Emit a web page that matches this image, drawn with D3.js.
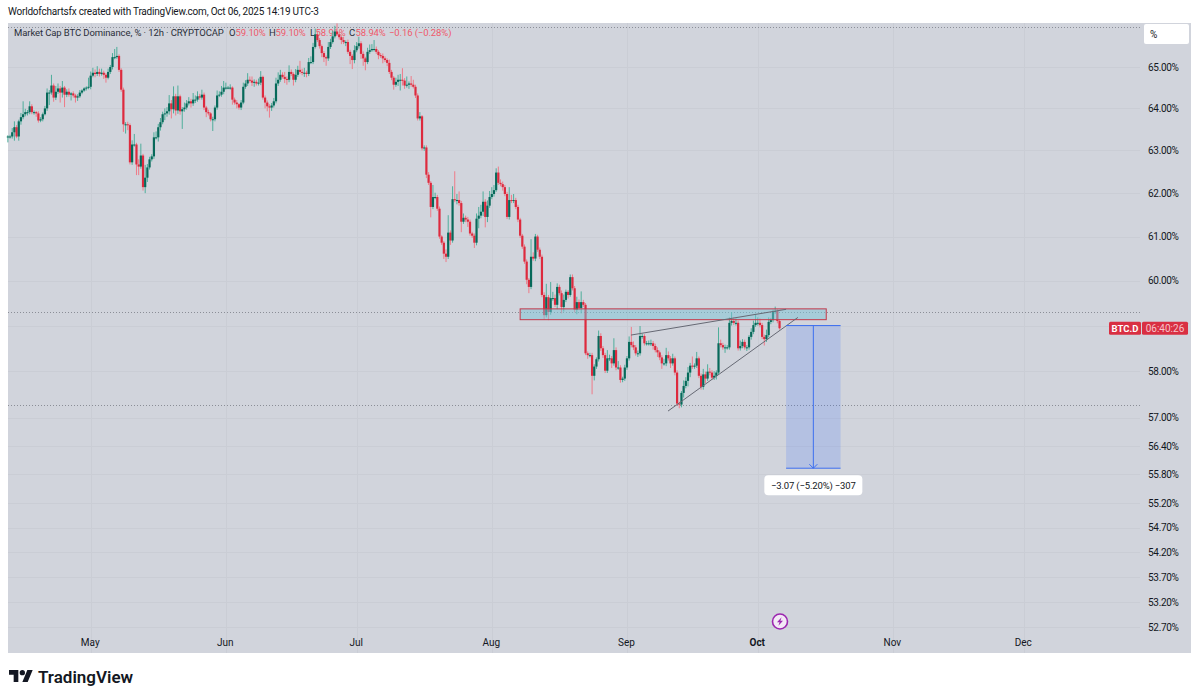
<!DOCTYPE html>
<html>
<head>
<meta charset="utf-8">
<style>
  html, body { margin: 0; padding: 0; background: #fff; }
  svg { display: block; }
  text { font-family: Roboto, "Open Sans", sans-serif; }
</style>
<script src="https://cdn.jsdelivr.net/npm/d3@7"></script>
</head>
<body>
<svg id="chart" width="1200" height="700"></svg>
<script>
// BTC.D closing prices, 12h candles from 12 Apr 2025, in percent.
const closes = [
63.33,63.33,63.43,63.55,63.33,63.69,63.79,63.86,63.91,63.91,
64.05,63.91,63.91,63.88,63.71,63.74,63.86,64.00,64.38,64.38,
64.55,64.26,64.40,64.48,64.38,64.50,64.33,64.40,64.33,64.36,
64.31,64.26,64.29,64.38,64.43,64.48,64.50,64.52,64.79,64.86,
64.83,64.88,64.83,64.86,64.81,64.74,64.88,65.00,65.24,65.24,
65.27,64.93,64.45,63.62,63.62,63.60,62.72,63.14,63.14,62.67,
62.62,62.88,62.14,62.36,62.60,62.79,62.86,63.31,63.31,63.55,
63.67,63.86,63.88,63.93,64.12,63.98,64.29,63.95,64.29,63.93,
63.98,64.02,64.12,64.17,64.12,64.21,64.21,64.29,64.26,64.33,
64.02,63.91,63.88,63.74,63.74,64.02,64.31,64.33,64.40,64.50,
64.50,64.50,64.50,64.21,64.14,64.10,64.02,64.14,64.52,64.60,
64.69,64.67,64.62,64.64,64.60,64.62,64.76,64.26,64.14,64.05,
64.02,64.07,64.17,64.60,64.69,64.81,64.76,64.71,64.69,64.88,
64.83,64.69,64.81,64.93,64.88,64.86,64.86,64.83,65.12,65.12,
65.49,65.80,65.66,65.51,65.34,65.24,65.21,65.49,65.61,65.75,
65.87,65.80,65.73,65.66,65.61,65.61,65.37,65.27,65.17,65.41,
65.51,65.58,65.32,65.21,65.12,65.37,65.41,65.44,65.44,65.37,
65.29,65.27,65.21,65.17,65.10,64.88,64.74,64.57,64.64,64.69,
64.69,64.67,64.55,64.57,64.60,64.57,64.52,64.31,63.76,63.81,
63.05,63.07,62.43,62.24,61.68,61.91,61.91,61.64,61.00,60.86,
60.61,60.54,61.09,60.91,61.86,61.84,61.84,61.77,61.34,61.43,
61.39,61.34,61.07,61.02,60.86,61.41,61.48,61.57,61.80,61.45,
61.71,61.91,61.98,62.07,62.48,62.24,62.21,62.14,61.98,61.45,
61.84,61.82,61.84,61.68,61.39,61.02,60.77,60.43,60.02,59.86,
60.54,60.50,61.00,60.70,60.54,59.68,59.23,59.63,59.30,59.61,
59.61,59.46,59.86,59.72,59.41,59.57,59.75,59.68,60.08,59.83,
59.35,59.52,59.39,59.52,59.46,58.39,58.35,58.35,57.90,58.10,
58.26,58.77,58.50,58.35,58.01,58.28,58.28,58.17,58.46,58.08,
58.08,57.81,57.84,58.08,58.28,58.64,58.57,58.52,58.39,58.39,
58.77,58.77,58.61,58.61,58.61,58.61,58.55,58.46,58.41,58.30,
58.17,58.17,58.35,58.28,58.17,58.28,57.97,57.30,57.28,57.53,
57.68,57.79,57.97,58.12,58.10,58.12,58.28,57.90,57.66,57.93,
57.84,57.99,57.97,57.86,57.90,57.97,58.61,58.57,58.52,58.52,
58.52,59.06,59.10,59.06,59.06,58.50,58.55,58.64,58.52,58.52,
58.75,58.86,59.01,59.06,59.06,59.01,58.75,58.70,58.79,59.08,
59.12,59.30,59.32,59.10,58.94
];
// Distance from the top of each body to its high, in percentage points.
const wickUp = [
.03,.04,.10,.14,.05,.04,.10,.31,.08,.05,
.12,.05,.04,.03,.05,.05,.04,.06,.10,.06,
.26,.05,.14,.12,.06,.16,.04,.06,.08,.03,
.05,.04,.05,.06,.03,.03,.03,.22,.10,.12,
.08,.14,.08,.10,.05,.04,.08,.05,.10,.20,
.22,.04,.04,.05,.05,.06,.04,.10,.25,.04,
.12,.28,.04,.30,.08,.06,.05,.12,.14,.08,
.10,.06,.12,.10,.20,.08,.24,.06,.26,.04,
.05,.12,.08,.10,.06,.16,.10,.12,.06,.12,
.05,.04,.06,.03,.06,.05,.12,.08,.14,.16,
.12,.04,.08,.03,.05,.06,.03,.06,.10,.08,
.16,.08,.10,.06,.05,.10,.14,.03,.05,.05,
.05,.06,.08,.14,.18,.12,.06,.12,.06,.16,
.06,.04,.14,.10,.22,.08,.12,.05,.10,.14,
.10,.14,.06,.05,.04,.05,.04,.12,.08,.14,
.14,.20,.06,.05,.08,.04,.06,.05,.04,.12,
.10,.16,.05,.06,.04,.10,.14,.12,.22,.06,
.04,.05,.06,.05,.04,.08,.05,.04,.10,.12,
.14,.28,.06,.20,.05,.18,.12,.05,.05,.10,
.03,.05,.05,.06,.04,.28,.10,.05,.05,.03,
.04,.10,.40,.05,.30,.65,.14,.20,.05,.10,
.05,.06,.05,.04,.05,.12,.20,.16,.24,.06,
.12,.14,.16,.12,.10,.14,.08,.06,.05,.05,
.30,.12,.14,.05,.05,.04,.04,.05,.05,.04,
.40,.10,.06,.04,.05,.05,.06,.30,.05,.36,
.14,.08,.08,.05,.06,.12,.05,.04,.06,.06,
.05,.12,.06,.24,.05,.04,.04,.05,.05,.05,
.04,.12,.06,.05,.05,.18,.08,.05,.26,.06,
.14,.05,.04,.06,.05,.12,.33,.08,.05,.06,
.22,.05,.04,.05,.06,.08,.05,.05,.06,.04,
.05,.10,.16,.08,.05,.10,.04,.05,.04,.04,
.12,.08,.12,.06,.20,.05,.14,.04,.05,.12,
.06,.16,.08,.05,.10,.05,.35,.08,.05,.06,
.05,.12,.20,.08,.10,.05,.12,.06,.05,.05,
.04,.08,.10,.20,.12,.10,.05,.05,.12,.10,
.05,.05,.10,.04,.04
];
// Distance from the bottom of each body to its low, in percentage points.
const wickDown = [
.12,.05,.05,.20,.04,.10,.08,.05,.05,.08,
.05,.05,.06,.08,.05,.04,.05,.03,.06,.30,
.05,.10,.06,.05,.24,.12,.30,.06,.05,.14,
.05,.12,.08,.04,.04,.03,.05,.04,.06,.04,
.08,.05,.06,.04,.10,.12,.04,.05,.06,.05,
.04,.05,.05,.18,.22,.12,.05,.06,.05,.25,
.20,.05,.08,.14,.10,.05,.05,.06,.05,.10,
.08,.05,.14,.08,.08,.22,.10,.12,.08,.08,
.42,.06,.05,.05,.10,.06,.08,.05,.05,.05,
.06,.12,.05,.05,.28,.05,.05,.04,.05,.06,
.05,.04,.05,.12,.05,.10,.05,.06,.04,.05,
.06,.05,.08,.10,.05,.05,.06,.05,.14,.12,
.24,.08,.05,.05,.06,.05,.04,.10,.12,.06,
.05,.14,.06,.05,.05,.06,.10,.08,.05,.05,
.05,.04,.05,.06,.10,.12,.18,.06,.05,.04,
.05,.04,.06,.10,.05,.10,.05,.20,.22,.08,
.05,.06,.12,.18,.20,.05,.05,.04,.06,.05,
.10,.05,.12,.05,.08,.05,.06,.12,.05,.10,
.26,.12,.08,.05,.10,.05,.04,.06,.05,.05,
.05,.06,.08,.05,.24,.05,.05,.05,.05,.05,
.12,.12,.05,.10,.05,.05,.10,.06,.24,.05,
.06,.12,.05,.05,.12,.06,.22,.06,.10,.24,
.12,.05,.05,.06,.04,.05,.05,.08,.05,.05,
.06,.05,.05,.05,.06,.05,.05,.05,.10,.14,
.05,.05,.06,.05,.05,.05,.10,.05,.18,.06,
.06,.05,.10,.05,.14,.10,.05,.08,.04,.05,
.06,.10,.05,.12,.05,.04,.08,.05,.40,.10,
.05,.05,.06,.06,.05,.05,.06,.10,.05,.06,
.05,.06,.05,.05,.05,.05,.05,.06,.05,.08,
.05,.06,.05,.05,.05,.06,.08,.05,.10,.06,
.12,.05,.06,.05,.10,.05,.06,.05,.08,.06,
.10,.05,.12,.10,.05,.05,.05,.05,.06,.06,
.10,.05,.06,.05,.05,.08,.05,.05,.05,.12,
.05,.05,.06,.05,.06,.05,.05,.05,.05,.08,
.05,.06,.05,.04,.06,.05,.05,.14,.06,.05,
.05,.05,.04,.05,.03
];
const firstOpen = 63.31;
const firstCandle = Date.UTC(2025, 3, 12);

const priceTicks = [65, 64, 63, 62, 61, 60, 59, 58, 57, 56.4, 55.8, 55.2, 54.7, 54.2, 53.7, 53.2, 52.7];
const hiddenPriceLabels = [59];
const monthTicks = [[2025, 4, "May"], [2025, 5, "Jun"], [2025, 6, "Jul"], [2025, 7, "Aug"], [2025, 8, "Sep"], [2025, 9, "Oct"], [2025, 10, "Nov"], [2025, 11, "Dec"]];

// Horizontal dotted guides: session high, resistance level, session low.
const dottedLevels = [65.98, 59.29, 57.27];
const zoneTop = 59.37, zoneBottom = 59.13;
const zoneDates = ["2025-08-07T12:00Z", "2025-10-16T17:00Z"];
const upperTrend = [["2025-09-01T22:00Z", 58.79], ["2025-10-07T12:00Z", 59.36]];
const lowerTrend = [["2025-09-10T10:00Z", 57.14], ["2025-10-10T05:00Z", 59.18]];
const projectionDates = ["2025-10-07T12:00Z", "2025-10-20T00:00Z"];
const projectionFrom = 59.00, projectionTo = 55.93;

const svg = d3.select("#chart");
const PANE = { left: 8, right: 1140, top: 23, bottom: 653, outerRight: 1191 };

const x = d3.scaleUtc()
  .domain([new Date(Date.UTC(2025, 4, 1)), new Date(Date.UTC(2025, 11, 1))])
  .range([90.7, 1023.7]);
const y = d3.scaleLog().domain([65, 52.72]).range([67, 626]);

const candles = closes.map((c, i) => {
  const o = i ? closes[i - 1] : firstOpen;
  return {
    date: new Date(firstCandle + i * 12 * 3600 * 1000),
    o, c,
    h: Math.max(o, c) + wickUp[i],
    l: Math.min(o, c) - wickDown[i]
  };
});

// Pane background
svg.append("rect")
  .attr("x", PANE.left).attr("y", PANE.top)
  .attr("width", PANE.outerRight - PANE.left).attr("height", PANE.bottom - PANE.top)
  .attr("fill", "#d1d4dc");

// Snapshot caption
svg.append("text").attr("x", 8).attr("y", 15)
  .attr("font-size", 10).attr("letter-spacing", "-.21").attr("fill", "#131722")
  .text("Worldofchartsfx created with TradingView.com, Oct 06, 2025 14:19 UTC-3");

// Grid
const grid = svg.append("g").attr("stroke", "#cacdd5").attr("stroke-width", 1);
grid.selectAll("line.h").data(priceTicks).join("line").attr("class", "h")
  .attr("x1", PANE.left).attr("x2", PANE.right)
  .attr("y1", d => Math.round(y(d)) + .5).attr("y2", d => Math.round(y(d)) + .5);
grid.selectAll("line.v").data(monthTicks).join("line").attr("class", "v")
  .attr("y1", PANE.top).attr("y2", PANE.bottom)
  .attr("x1", d => Math.round(x(new Date(Date.UTC(d[0], d[1], 1)))) + .5)
  .attr("x2", d => Math.round(x(new Date(Date.UTC(d[0], d[1], 1)))) + .5);

// Dotted guides
svg.append("g").selectAll("line").data(dottedLevels).join("line")
  .attr("x1", PANE.left).attr("x2", PANE.right)
  .attr("y1", d => Math.round(y(d)) + .5).attr("y2", d => Math.round(y(d)) + .5)
  .attr("stroke", "#8b8e97").attr("stroke-width", 1).attr("stroke-dasharray", "1 2");

// Symbol legend, drawn under the candles
const legendRed = "#ef5a6b";
const legend = svg.append("g").attr("font-size", 9.5).attr("letter-spacing", "-.1");
const legendItems = [
  [14, "Market Cap BTC Dominance, % · 12h · CRYPTOCAP", "#2a2e39"],
  [229, "O", "#2a2e39"], [235.5, "59.10%", legendRed],
  [269, "H", "#2a2e39"], [275.5, "59.10%", legendRed],
  [310, "L", "#2a2e39"], [315.5, "58.91%", legendRed],
  [349, "C", "#2a2e39"], [355.5, "58.94%", legendRed],
  [389, "−0.16 (−0.28%)", legendRed]
];
legend.selectAll("text").data(legendItems).join("text")
  .attr("x", d => d[0]).attr("y", 36).attr("fill", d => d[2]).text(d => d[1]);

// Candles
const GREEN = "#07695a", RED = "#dd2a3e", GREEN_W = "#4fae9b", RED_W = "#ee7b88";
const bars = svg.append("g");
bars.selectAll("line").data(candles).join("line")
  .attr("x1", d => x(d.date)).attr("x2", d => x(d.date))
  .attr("y1", d => y(d.h)).attr("y2", d => y(d.l))
  .attr("stroke", d => d.c >= d.o ? GREEN_W : RED_W).attr("stroke-width", 1);
bars.selectAll("rect").data(candles).join("rect")
  .attr("x", d => x(d.date) - 1.1).attr("width", 2.2)
  .attr("y", d => y(Math.max(d.o, d.c)))
  .attr("height", d => Math.max(1, Math.abs(y(d.o) - y(d.c))))
  .attr("fill", d => d.c >= d.o ? GREEN : RED);

// Supply zone
svg.append("rect")
  .attr("x", x(new Date(zoneDates[0]))).attr("width", x(new Date(zoneDates[1])) - x(new Date(zoneDates[0])))
  .attr("y", y(zoneTop)).attr("height", y(zoneBottom) - y(zoneTop))
  .attr("fill", "#7cc4d6").attr("fill-opacity", .5)
  .attr("stroke", "#c4384a").attr("stroke-width", 1);

// Rising wedge
const trendLine = d3.line().x(d => x(new Date(d[0]))).y(d => y(d[1]));
svg.append("g").selectAll("path").data([upperTrend, lowerTrend]).join("path")
  .attr("d", trendLine).attr("fill", "none")
  .attr("stroke", "#666974").attr("stroke-width", 1);

// Short projection with its measured move
const px0 = x(new Date(projectionDates[0])), px1 = x(new Date(projectionDates[1]));
const pxMid = (px0 + px1) / 2;
const pyTop = y(projectionFrom), pyBot = y(projectionTo);
const BLUE = "#3d6ff0";
const proj = svg.append("g");
proj.append("rect").attr("x", px0).attr("y", pyTop)
  .attr("width", px1 - px0).attr("height", pyBot - pyTop)
  .attr("fill", "#2962ff").attr("fill-opacity", .17);
proj.append("line").attr("x1", px0).attr("x2", px1).attr("y1", pyTop).attr("y2", pyTop)
  .attr("stroke", BLUE).attr("stroke-width", 1);
proj.append("line").attr("x1", px0).attr("x2", px1).attr("y1", pyBot).attr("y2", pyBot)
  .attr("stroke", BLUE).attr("stroke-width", 1);
proj.append("line").attr("x1", pxMid).attr("x2", pxMid).attr("y1", pyTop).attr("y2", pyBot)
  .attr("stroke", BLUE).attr("stroke-width", 1);
proj.append("path")
  .attr("d", `M${pxMid - 4},${pyBot - 4} L${pxMid},${pyBot} L${pxMid + 4},${pyBot - 4}`)
  .attr("fill", "none").attr("stroke", BLUE).attr("stroke-width", 1);

const labelW = 98, labelH = 20;
proj.append("rect").attr("x", pxMid - labelW / 2).attr("y", pyBot + 7)
  .attr("width", labelW).attr("height", labelH).attr("rx", 4).attr("fill", "#fff");
proj.append("text").attr("x", pxMid).attr("y", pyBot + 20.5)
  .attr("text-anchor", "middle").attr("font-size", 9.5).attr("letter-spacing", "-.15").attr("fill", "#131722")
  .text(`−${(projectionFrom - projectionTo).toFixed(2)} (−5.20%) −307`);

// Price axis
const yAxis = d3.axisRight(y).tickValues(priceTicks.filter(d => !hiddenPriceLabels.includes(d)))
  .tickFormat(d => d.toFixed(2) + "%").tickSize(0).tickPadding(0);
const gy = svg.append("g").attr("transform", "translate(1148,0)").call(yAxis);
gy.select(".domain").remove();
gy.selectAll("text").attr("font-family", "Roboto, sans-serif").attr("font-size", 10).attr("fill", "#131722")
  .attr("letter-spacing", "-.3");

// Time axis
const xAxis = d3.axisBottom(x)
  .tickValues(monthTicks.map(d => new Date(Date.UTC(d[0], d[1], 1))))
  .tickFormat((d, i) => monthTicks[i][2]).tickSize(0).tickPadding(0);
const gx = svg.append("g").attr("transform", "translate(-1,639)").call(xAxis);
gx.select(".domain").remove();
gx.selectAll("text").attr("font-family", "Roboto, sans-serif").attr("font-size", 10).attr("fill", "#131722")
  .attr("font-weight", (d, i) => monthTicks[i][2] === "Oct" ? 700 : 400);

// Scale mode button
svg.append("rect").attr("x", 1144).attr("y", 24).attr("width", 45).attr("height", 20).attr("rx", 2).attr("fill", "#fff");
svg.append("text").attr("x", 1150).attr("y", 38).attr("font-size", 10).attr("fill", "#131722").text("%");

// Last price tags
const lastClose = closes[closes.length - 1];
const tagY = y(lastClose);
const TAG = "#d92f42";
svg.append("rect").attr("x", 1109).attr("y", tagY - 6.5).attr("width", 32).attr("height", 13).attr("rx", 1.5).attr("fill", TAG);
svg.append("rect").attr("x", 1142).attr("y", tagY - 6.5).attr("width", 46).attr("height", 13).attr("rx", 1.5).attr("fill", TAG);
svg.append("text").attr("x", 1125).attr("y", tagY + 3.6).attr("text-anchor", "middle")
  .attr("font-size", 9.5).attr("font-weight", 700).attr("fill", "#fff").text("BTC.D");
svg.append("text").attr("x", 1165).attr("y", tagY + 3.6).attr("text-anchor", "middle")
  .attr("font-size", 10).attr("fill", "#f6c3ca").text("06:40:26");

// Event marker on the time axis
const marker = svg.append("g").attr("transform", "translate(780,621.5)");
marker.append("circle").attr("r", 7.5).attr("fill", "#f3e9f6").attr("stroke", "#9c27b0").attr("stroke-width", 1.6);
marker.append("path").attr("d", "M1.6,-4.2 L-3,0.8 L-0.4,0.8 L-1.6,4.2 L3,-0.8 L0.4,-0.8 Z").attr("fill", "#9c27b0");

// Brand mark
const brand = svg.append("g");
brand.append("g").attr("transform", "translate(9,667.3) scale(.667)")
  .call(g => {
    g.append("path").attr("d", "M14 22H7V11H0V4h14v18zM28 22h-8l7.5-18h8L28 22z").attr("fill", "#131722");
    g.append("circle").attr("cx", 20).attr("cy", 8).attr("r", 4).attr("fill", "#131722");
  });
brand.append("text").attr("x", 38).attr("y", 683).attr("font-family", "Inter, 'Open Sans', sans-serif")
  .attr("font-size", 17).attr("font-weight", 600).attr("fill", "#131722").text("TradingView");
</script>
</body>
</html>
